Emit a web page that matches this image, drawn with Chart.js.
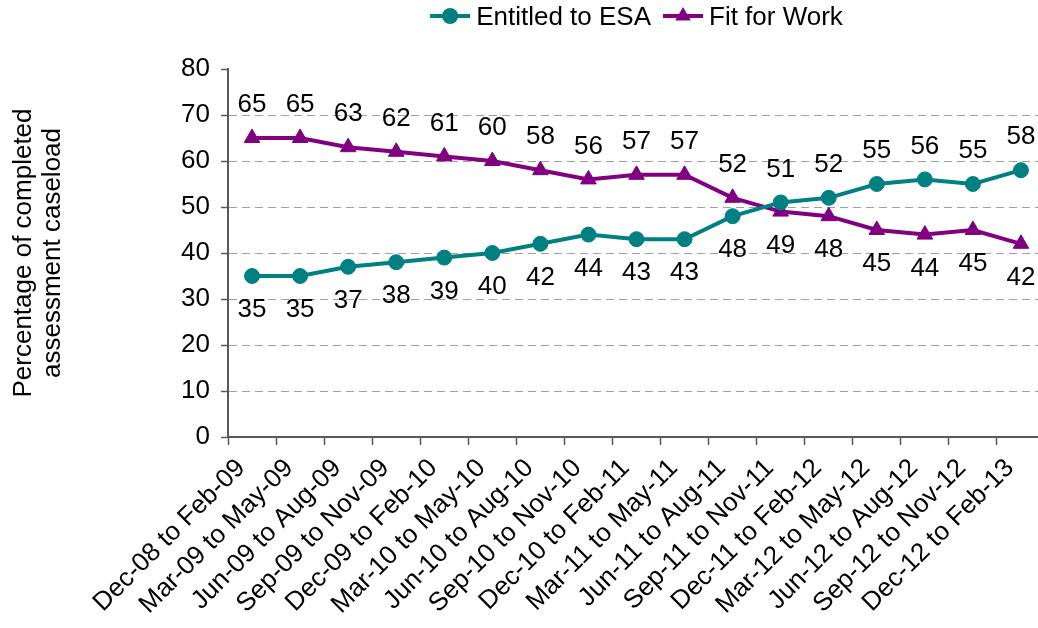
<!DOCTYPE html>
<html>
<head>
<meta charset="utf-8">
<title>ESA outcomes</title>
<script src="https://cdn.jsdelivr.net/npm/chart.js@4/dist/chart.umd.min.js"></script>
<style>
  html, body { margin: 0; padding: 0; background: #fff; overflow: hidden; }
  #wrap { width: 1055px; height: 628px; position: relative; }
</style>
</head>
<body>
<div id="wrap"><canvas id="esaChart"></canvas></div>
<script>
// data
var periods = [
    'Dec-08 to Feb-09', 'Mar-09 to May-09', 'Jun-09 to Aug-09', 'Sep-09 to Nov-09',
    'Dec-09 to Feb-10', 'Mar-10 to May-10', 'Jun-10 to Aug-10', 'Sep-10 to Nov-10',
    'Dec-10 to Feb-11', 'Mar-11 to May-11', 'Jun-11 to Aug-11', 'Sep-11 to Nov-11',
    'Dec-11 to Feb-12', 'Mar-12 to May-12', 'Jun-12 to Aug-12', 'Sep-12 to Nov-12',
    'Dec-12 to Feb-13'
];
var entitledToEsa = [35, 35, 37, 38, 39, 40, 42, 44, 43, 43, 48, 51, 52, 55, 56, 55, 58];
var fitForWork    = [65, 65, 63, 62, 61, 60, 58, 56, 57, 57, 52, 49, 48, 45, 44, 45, 42];
var yTicks = [0, 10, 20, 30, 40, 50, 60, 70, 80];

var FONT = '"Liberation Sans", Arial, sans-serif';
var FSIZE = 26;
var TEAL = '#008080';
var PURPLE = '#800080';
var AXIS = '#595959';

// value labels: the higher series gets its label above, the lower one below
var pointLabels = {
    id: 'pointLabels',
    afterDatasetsDraw: function(chart) {
        var ctx = chart.ctx;
        var sets = chart.data.datasets;
        ctx.save();
        ctx.font = FSIZE + 'px ' + FONT;
        ctx.fillStyle = '#000';
        ctx.textAlign = 'center';
        ctx.textBaseline = 'middle';
        sets.forEach(function(ds, di) {
            var other = sets[1 - di].data;
            chart.getDatasetMeta(di).data.forEach(function(pt, i) {
                var above = ds.data[i] > other[i];
                ctx.fillText(String(ds.data[i]), pt.x, pt.y + (above ? -33 : 34));
            });
        });
        ctx.restore();
    }
};

// legend with a line sample through the marker, like the original
var lineLegend = {
    id: 'lineLegend',
    afterDraw: function(chart) {
        var ctx = chart.ctx;
        var area = chart.chartArea;
        var sets = chart.data.datasets;
        var sample = 40, gap = 6, between = 12;
        ctx.save();
        ctx.font = FSIZE + 'px ' + FONT;
        var widths = sets.map(function(ds) { return ctx.measureText(ds.label).width; });
        var total = 0;
        widths.forEach(function(w) { total += sample + gap + w; });
        total += between * (sets.length - 1);
        var x = (area.left + area.right) / 2 - total / 2;
        var y = 16;
        sets.forEach(function(ds, i) {
            ctx.strokeStyle = ds.borderColor;
            ctx.fillStyle = ds.borderColor;
            ctx.lineWidth = 4;
            ctx.beginPath();
            ctx.moveTo(x, y);
            ctx.lineTo(x + sample, y);
            ctx.stroke();
            var cx = x + sample / 2;
            ctx.beginPath();
            if (ds.pointStyle === 'triangle') {
                var r = 9;
                ctx.moveTo(cx, y - r);
                ctx.lineTo(cx + r * 0.866, y + r / 2);
                ctx.lineTo(cx - r * 0.866, y + r / 2);
                ctx.closePath();
            } else {
                ctx.arc(cx, y, 8, 0, Math.PI * 2);
            }
            ctx.fill();
            ctx.fillStyle = '#000';
            ctx.textAlign = 'left';
            ctx.textBaseline = 'middle';
            ctx.fillText(ds.label, x + sample + gap, y + 2);
            x += sample + gap + widths[i] + between;
        });
        ctx.restore();
    }
};

var chart = new Chart(document.getElementById('esaChart').getContext('2d'), {
    type: 'line',
    data: {
        labels: periods,
        datasets: [{
            label: 'Entitled to ESA',
            data: entitledToEsa,
            borderColor: TEAL,
            backgroundColor: TEAL,
            borderWidth: 4,
            pointStyle: 'circle',
            pointRadius: 7.5,
            pointBorderWidth: 1,
            pointHoverRadius: 7.5,
            tension: 0
        }, {
            label: 'Fit for Work',
            data: fitForWork,
            borderColor: PURPLE,
            backgroundColor: PURPLE,
            borderWidth: 4,
            pointStyle: 'triangle',
            pointRadius: 9,
            pointBorderWidth: 1,
            pointHoverRadius: 9,
            tension: 0
        }]
    },
    options: {
        responsive: true,
        maintainAspectRatio: false,
        animation: false,
        layout: { padding: { top: 69, right: 4, bottom: 0, left: 0 } },
        plugins: {
            legend: { display: false },
            tooltip: { enabled: false }
        },
        scales: {
            x: {
                offset: true,
                grid: {
                    offset: true,
                    drawOnChartArea: false,
                    tickLength: 8,
                    tickColor: AXIS,
                    tickWidth: 1.5
                },
                border: { color: AXIS, width: 2 },
                ticks: {
                    autoSkip: false,
                    minRotation: 45,
                    maxRotation: 45,
                    padding: 8,
                    labelOffset: -11,
                    color: '#000',
                    font: { family: FONT, size: FSIZE }
                },
                afterFit: function(scale) { scale.height = 191; }
            },
            y: {
                min: yTicks[0],
                max: yTicks[yTicks.length - 1],
                afterBuildTicks: function(scale) {
                    scale.ticks = yTicks.map(function(v) { return { value: v }; });
                },
                grid: {
                    color: function(c) {
                        var v = c.tick ? c.tick.value : 0;
                        return (v === 0 || v === 80) ? 'rgba(0,0,0,0)' : '#a0a0a0';
                    },
                    lineWidth: 1,
                    tickLength: 7,
                    tickColor: AXIS,
                    tickWidth: 1.5,
                    tickBorderDash: []
                },
                border: { color: AXIS, width: 2, dash: [8, 5] },
                ticks: {
                    padding: 11,
                    color: '#000',
                    font: { family: FONT, size: FSIZE }
                },
                title: {
                    display: true,
                    text: ['Percentage of completed', 'assessment caseload'],
                    color: '#000',
                    font: { family: FONT, size: FSIZE, lineHeight: 1.12 },
                    padding: { top: 9, bottom: 0 }
                },
                afterFit: function(scale) { scale.width = 228; }
            }
        }
    },
    plugins: [pointLabels, lineLegend]
});
</script>
</body>
</html>
